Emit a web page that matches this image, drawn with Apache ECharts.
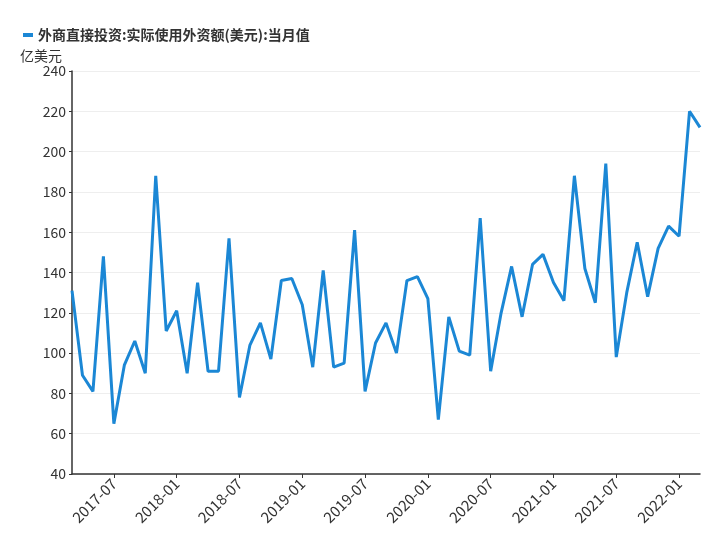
<!DOCTYPE html>
<html>
<head>
<meta charset="utf-8">
<style>
  html, body { margin: 0; padding: 0; background: #fff; }
  #chart { width: 720px; height: 540px; }
</style>
<script src="https://cdn.jsdelivr.net/npm/echarts@6/dist/echarts.min.js"></script>
</head>
<body>
<div id="chart"></div>
<script>
// 月份: 2017-03 ~ 2022-03
const months = [];
for (let y = 2017, m = 3; y < 2022 || (y === 2022 && m <= 3); m++) {
  if (m > 12) { m = 1; y++; }
  months.push(y + '-' + String(m).padStart(2, '0'));
}

// 外商直接投资:实际使用外资额(美元):当月值, 亿美元
const fdiValues = [
  131, 89, 81, 148, 65, 94, 106, 90, 188, 111,
  121, 90, 135, 91, 91, 157, 78, 104, 115, 97,
  136, 137, 124, 93, 141, 93, 95, 161, 81, 105,
  115, 100, 136, 138, 127, 67, 118, 101, 99, 167,
  91, 120, 143, 118, 144, 149, 135, 126, 188, 142,
  125, 194, 98, 130, 155, 128, 152, 163, 158, 220,
  212
];

const seriesName = '外商直接投资:实际使用外资额(美元):当月值';

const showHalfYear = (index, value) => /-(01|07)$/.test(value);

const chart = echarts.init(document.getElementById('chart'));
chart.setOption({
  animation: false,
  textStyle: { fontFamily: 'Noto Sans CJK SC' },
  legend: {
    left: 18,
    top: 23,
    icon: 'rect',
    itemWidth: 10,
    itemHeight: 4,
    itemGap: 6,
    textStyle: { fontSize: 14, fontWeight: 'bold', color: '#333' },
    data: [seriesName]
  },
  grid: { left: 72, right: 20, top: 71, bottom: 66 },
  xAxis: {
    type: 'category',
    data: months,
    boundaryGap: false,
    axisLine: { lineStyle: { color: '#333', width: 1.5 } },
    axisTick: { interval: showHalfYear, length: 4, lineStyle: { color: '#333' } },
    axisLabel: {
      interval: showHalfYear,
      rotate: 45,
      fontSize: 15,
      color: '#333',
      margin: 7
    }
  },
  yAxis: {
    type: 'value',
    min: 40,
    max: 240,
    interval: 20,
    name: '亿美元',
    nameLocation: 'end',
    nameGap: 8,
    nameTextStyle: { fontSize: 14, color: '#333', align: 'right', padding: [0, 10, 0, 0] },
    axisLine: { show: true, lineStyle: { color: '#333', width: 1.5 } },
    axisTick: { show: true, length: 3, lineStyle: { color: '#333' } },
    axisLabel: { fontSize: 14, color: '#333', margin: 6 },
    splitLine: { lineStyle: { color: '#eee' } }
  },
  series: [
    {
      name: seriesName,
      type: 'line',
      data: fdiValues,
      showSymbol: false,
      lineStyle: { color: '#1b87d5', width: 3 },
      itemStyle: { color: '#1b87d5' }
    }
  ]
});
</script>
</body>
</html>
